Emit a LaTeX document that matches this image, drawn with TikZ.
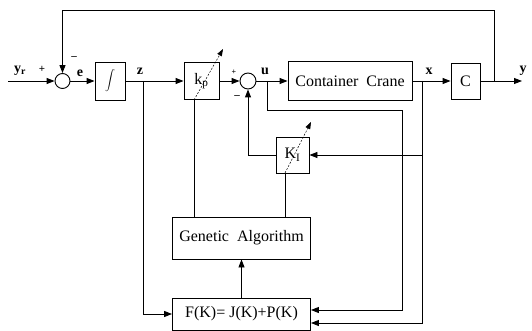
\documentclass[tikz,border=0pt]{standalone}
\usepackage{fontspec}
\setmainfont{Liberation Serif}
\usetikzlibrary{arrows.meta,calc}
\begin{document}
\begin{tikzpicture}[x=1pt,y=-1pt, line width=0.9pt,
  blk/.style={draw, inner sep=0pt, font=\fontsize{16}{19}\selectfont},
  sumc/.style={draw, circle, inner sep=0pt},
  arr/.style={-{Triangle[length=8pt,width=6pt]}},
  lbl/.style={font=\fontsize{14}{16}\selectfont\bfseries, inner sep=0pt},
  sgn/.style={font=\fontsize{11}{12}\selectfont\bfseries, inner sep=0pt},
  gain/.style={dashed, dash pattern=on 2pt off 1.5pt, line width=0.5pt, -{Triangle[length=7pt,width=5pt]}}]
\useasboundingbox (0,0) rectangle (532,331);
% blocks
\node[sumc, minimum size=15pt] (s1) at (62.5,81) {};
\node[blk, minimum width=30pt, minimum height=38pt] (int) at (110,81) {$\displaystyle\int$};
\node[blk, minimum width=35pt, minimum height=37pt] (kp) at (201.5,81) {k\textsubscript{p}};
\node[sumc, minimum size=16pt] (s2) at (248,81) {};
\node[blk, minimum width=124pt, minimum height=39pt] (crane) at (350,81) {Container\ \ Crane};
\node[blk, minimum width=29pt, minimum height=36pt] (c) at (465.5,81) {C};
\node[blk, minimum width=33pt, minimum height=36pt] (ki) at (292.5,155) {K\textsubscript{I}};
\node[blk, minimum width=138pt, minimum height=42pt] (ga) at (241.5,238) {Genetic\ \ Algorithm};
\node[blk, minimum width=138pt, minimum height=32pt] (f) at (241.5,314) {F(K)= J(K)+P(K)};
% coordinates
\coordinate (in) at (8,81);
\coordinate (zb) at (143,81);
\coordinate (zd) at (143,314);
\coordinate (ub) at (267,81);
\coordinate (u1) at (267,110);
\coordinate (u2) at (402,110);
\coordinate (u3) at (402,310);
\coordinate (xb) at (422,81);
\coordinate (xk) at (422,155);
\coordinate (x1) at (422,323);
\coordinate (yb) at (494,81);
\coordinate (ytop) at (494,10);
\coordinate (s1top) at (62.5,10);
\coordinate (out) at (522,81);
\coordinate (kl) at (248,155);
\coordinate (kpb) at (194,100);
\coordinate (kpt) at (223,49);
\coordinate (kib) at (285,173);
\coordinate (kit) at (311,122);
% main path
\draw[arr] (in) -- (s1);
\draw[arr] (s1) -- (int);
\draw[arr] (int) -- (kp);
\draw[arr] (kp) -- (s2);
\draw[arr] (s2) -- (crane);
\draw[arr] (crane) -- (c);
\draw[arr] (c) -- (out);
\draw[arr] (yb) -- (ytop) -- (s1top) -- (s1);
% branches
\draw[arr] (zb) -- (zd) -- (f);
\draw[arr] (ub) -- (u1) -- (u2) -- (u3) -- (u3 -| f.east);
\draw[arr] (xb) -- (x1) -- (x1 -| f.east);
\draw[arr] (xk) -- (ki);
\draw[arr] (ki.west) -- (kl) -- (s2);
\draw (kpb) -- (kpb |- ga.north);
\draw (kib) -- (kib |- ga.north);
\draw[arr] (f) -- (ga);
% adjustable gains
\draw[gain] (kpb) -- (kpt);
\draw[gain] (kib) -- (kit);
% labels
\node[lbl] (lyr) at (20,71) {y\textsubscript{r}};
\node[sgn] (p1) at (42,69) {+};
\node[sgn] (m1) at (74,58) {--};
\node[lbl] (le) at (80,73) {e};
\node[lbl] (lz) at (140,71) {z};
\node[sgn, font=\fontsize{8}{9}\selectfont\bfseries] (p2) at (234,72) {+};
\node[sgn] (m2) at (237,97) {--};
\node[lbl] (lu) at (265,71) {u};
\node[lbl] (lx) at (429,71) {x};
\node[lbl] (ly) at (523,71) {y};
\end{tikzpicture}
\end{document}
